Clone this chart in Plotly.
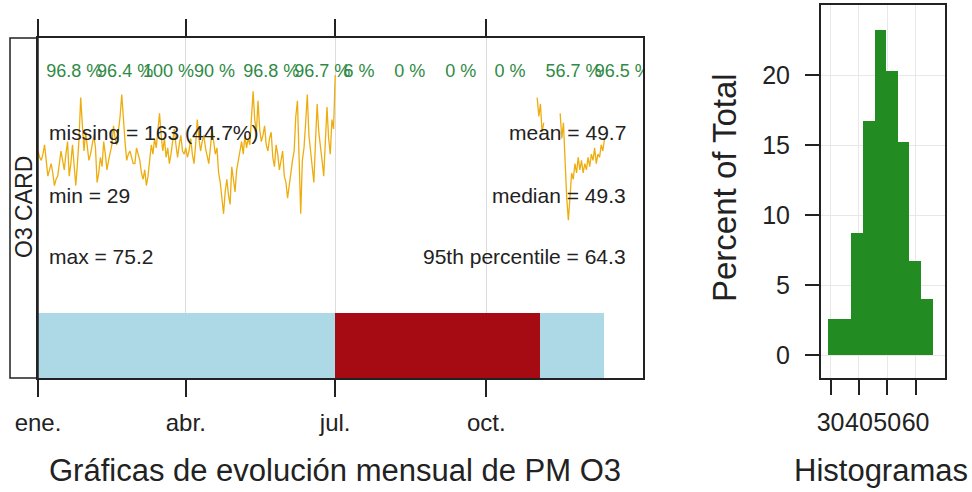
import plotly.graph_objects as go
import pandas as pd

# ---------------- data ----------------
year_start = "2019-01-01"
o3_jan = [51, 49, 48, 50, 53, 47, 43, 45, 47, 44, 40, 42, 43, 47, 51, 48, 45, 50, 54, 43,
          47, 53, 46, 40, 47, 55, 68, 58, 51, 57, 52]
o3_feb = [48, 50, 53, 56, 52, 41, 44, 49, 46, 54, 50, 45, 48, 51, 53, 59, 55, 53, 57, 62,
          69, 60, 54, 48, 50, 51, 49, 47]
o3_mar = [47, 52, 50, 48, 44, 42, 45, 40, 43, 49, 53, 50, 55, 52, 58, 63, 56, 51, 55, 49,
          52, 47, 50, 54, 58, 53, 49, 53, 56, 51, 50]
o3_apr = [52, 49, 51, 55, 50, 47, 53, 61, 55, 51, 54, 56, 52, 49, 47, 52, 58, 54, 50, 52,
          44, 41, 36, 31, 38, 42, 37, 34, 46, 41]
o3_may = [38, 45, 48, 51, 54, 50, 56, 52, 55, 53, 60, 70, 61, 57, 67, 58, 54, 56, 59, 53,
          51, 55, 57, 49, 46, 53, 50, 45, 48, 51, 43]
o3_jun = [41, 36, 40, 45, 48, 51, 62, 67, 44, 31, 48, 52, 60, 69, 56, 51, 44, 41, 54, 66,
          57, 53, 48, 43, 56, 65, 55, 50, 61, 58]
o3_jul = [75.2]
o3_nov_start = "2019-11-01"
o3_nov = [68, 62, 66, 57, 60, None, None, None, None, None, None, None, None, None,
          63, 55, 60, 45, 36, 29, 38, 44, 42, 47, 44, 49, 45, 48, 44, 47]
o3_dec = [45, 49, 46, 50, 48, 52, 47, 50, 49, 53, 51, 55]

avail_start = ["2019-01-01", "2019-07-01", "2019-11-03"]
avail_end = ["2019-07-01", "2019-11-03", "2019-12-12"]
avail_state = ["data", "missing", "data"]

month_starts = pd.date_range("2019-01-01", periods=12, freq="MS")
month_pct = ["96.8 %", "96.4 %", "100 %", "90 %", "96.8 %", "96.7 %", "6 %",
             "0 %", "0 %", "0 %", "56.7 %", "96.5 %"]

tick_dates = ["2019-01-01", "2019-04-01", "2019-07-01", "2019-10-01"]
tick_labels = ["ene.", "abr.", "jul.", "oct."]

stats_left = ["missing = 163 (44.7%)", "min = 29", "max = 75.2"]
stats_right = ["mean = 49.7", "median = 49.3", "95th percentile = 64.3"]

hist_edges = [29.0, 33.1, 37.2, 41.3, 45.4, 49.5, 53.6, 57.7, 61.8, 65.9]
hist_pct = [2.6, 2.6, 8.7, 16.7, 23.2, 20.3, 15.2, 6.7, 4.0]
hist_ticks = [30, 40, 50, 60]
pct_ticks = [0, 5, 10, 15, 20]

# ---------------- styling ----------------
W, H = 972, 492
FONT = "Liberation Sans, Arial, sans-serif"
TXT = "#222222"
AX = "#222222"
col_trend = "#EEAD0E"
col_data = "#ADD8E6"
col_mis = "#A60A12"
col_hist = "#228B22"
col_pct = "#2f8a45"


def fx(px):
    return px / W


def fy(py):
    return 1 - py / H


first_half = o3_jan + o3_feb + o3_mar + o3_apr + o3_may + o3_jun + o3_jul
dates1 = pd.date_range(year_start, periods=len(first_half), freq="D")
second = o3_nov + o3_dec
dates2 = pd.date_range(o3_nov_start, periods=len(second), freq="D")

t0 = pd.Timestamp(year_start)
px_per_day = 1.642
x_end = t0 + pd.Timedelta(days=(643 - 38) / px_per_day)

fig = go.Figure()

# availability bar
a_s = pd.to_datetime(avail_start)
a_e = pd.to_datetime(avail_end)
mids = a_s + (a_e - a_s) / 2
widths = [(e - s).total_seconds() * 1000 for s, e in zip(a_s, a_e)]
bar_h = (378 - 313) / 340
fig.add_trace(go.Bar(
    x=mids, y=[bar_h] * len(mids), base=0, width=widths,
    marker=dict(color=[col_data if s == "data" else col_mis for s in avail_state],
                line=dict(width=0)),
    xaxis="x", yaxis="y2", showlegend=False, hoverinfo="skip"))

# time series
fig.add_trace(go.Scatter(x=dates1, y=first_half, mode="lines",
                         line=dict(color=col_trend, width=1.3),
                         xaxis="x", yaxis="y", showlegend=False, connectgaps=False))
fig.add_trace(go.Scatter(x=dates2, y=second, mode="lines",
                         line=dict(color=col_trend, width=1.3),
                         xaxis="x", yaxis="y", showlegend=False, connectgaps=False))

# monthly capture percentages
fig.add_trace(go.Scatter(
    x=month_starts + pd.Timedelta(days=5), y=[(378 - 72) / 340] * 12,
    mode="text", text=month_pct, textposition="middle right",
    textfont=dict(family=FONT, size=18, color=col_pct),
    cliponaxis=True, xaxis="x", yaxis="y2", showlegend=False, hoverinfo="skip"))

# histogram
centers = [(a + b) / 2 for a, b in zip(hist_edges[:-1], hist_edges[1:])]
hw = [b - a for a, b in zip(hist_edges[:-1], hist_edges[1:])]
fig.add_trace(go.Bar(x=centers, y=hist_pct, width=hw,
                     marker=dict(color=col_hist, line=dict(width=0)),
                     xaxis="x2", yaxis="y3", showlegend=False))

fig.update_layout(
    width=W, height=H, margin=dict(l=0, r=0, t=0, b=0, autoexpand=False),
    paper_bgcolor="white", plot_bgcolor="white",
    font=dict(family=FONT, color=TXT),
    xaxis=dict(type="date", domain=[fx(38), fx(643)], anchor="y", automargin=False,
               range=[t0, x_end], tickvals=tick_dates, ticktext=tick_labels,
               ticks="outside", ticklen=17, tickwidth=1.5, tickcolor=AX, tickangle=0,
               ticklabelstandoff=5,
               showline=True, linecolor=AX, linewidth=1.5, mirror="ticks",
               showgrid=True, gridcolor="#dcdcdc", gridwidth=1, zeroline=False,
               tickfont=dict(size=24, color=TXT, family=FONT)),
    yaxis=dict(domain=[fy(378), fy(38)], anchor="x", range=[-21.3, 87], automargin=False,
               showline=True, linecolor=AX, linewidth=1.5, mirror=True,
               ticks="", showticklabels=False, showgrid=False, zeroline=False),
    yaxis2=dict(overlaying="y", anchor="x", range=[0, 1], visible=False,
                automargin=False, showgrid=False, zeroline=False),
    xaxis2=dict(domain=[fx(820.7), fx(945)], anchor="y3", range=[26.5, 70.4],
                automargin=False, tickangle=0, ticklabelstandoff=6,
                tickvals=hist_ticks, ticks="outside", ticklen=15, tickwidth=1.5,
                tickcolor=AX, showline=True, linecolor=AX, linewidth=1.5, mirror=True,
                showgrid=True, gridcolor="#e8e8e8", zeroline=False,
                tickfont=dict(size=25, color=TXT, family=FONT)),
    yaxis3=dict(domain=[fy(378), fy(5)], anchor="x2", range=[-1.64, 25],
                automargin=False, ticklabelstandoff=10,
                tickvals=pct_ticks, ticks="outside", ticklen=14, tickwidth=1.5,
                tickcolor=AX, showline=True, linecolor=AX, linewidth=1.5, mirror=True,
                showgrid=True, gridcolor="#e8e8e8", zeroline=False,
                tickfont=dict(size=25, color=TXT, family=FONT)),
    bargap=0,
)

# strip on left
fig.add_shape(type="rect", xref="paper", yref="paper",
              x0=fx(10), x1=fx(38), y0=fy(378), y1=fy(38),
              line=dict(color=AX, width=1.5), fillcolor="rgba(0,0,0,0)")

ann = []
ann.append(dict(text="O3 CARD", x=fx(24), y=fy(207), textangle=-90,
                font=dict(size=23, color=TXT)))
for t, py in zip(stats_left, [133, 195, 256]):
    ann.append(dict(text=t, x=fx(47), y=fy(py), xanchor="left",
                    font=dict(size=21, color=TXT)))
for t, py in zip(stats_right, [133, 195, 256]):
    ann.append(dict(text=t, x=fx(628), y=fy(py), xanchor="right",
                    font=dict(size=21, color=TXT)))
ann.append(dict(text="Gráficas de evolución mensual de PM O3", x=fx(335), y=fy(470),
                font=dict(size=31, color=TXT)))
ann.append(dict(text="Histogramas", x=fx(881), y=fy(470),
                font=dict(size=31, color=TXT)))
ann.append(dict(text="Percent of Total", x=fx(725), y=fy(188), textangle=-90,
                font=dict(size=33, color=TXT)))
for a in ann:
    a.update(xref="paper", yref="paper", showarrow=False, yanchor="middle")
    a.setdefault("xanchor", "center")
    a["font"]["family"] = FONT
fig.update_layout(annotations=ann)

fig.write_html("out.html")
